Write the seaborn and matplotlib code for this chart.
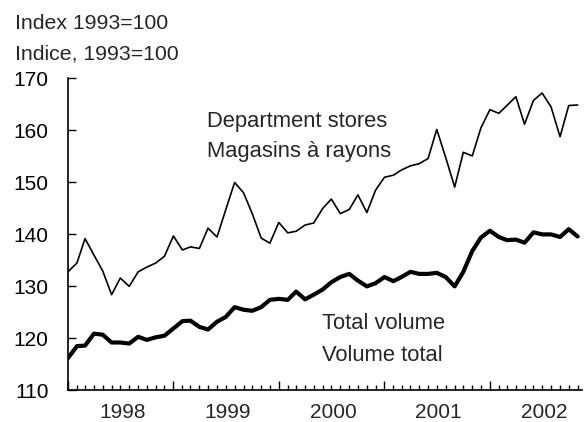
import datetime as dt

import matplotlib
matplotlib.use("Agg")
import matplotlib.dates as mdates
import matplotlib.pyplot as plt
import matplotlib.transforms as mtransforms
import pandas as pd
import seaborn as sns

# Monthly index values, January 1998 to November 2002 (1993=100)
months = pd.date_range("1998-01-01", periods=59, freq="MS")

department_stores = [
    132.8, 134.5, 139.2, 136.0, 133.0, 128.4, 131.6, 130.0, 132.8, 133.7, 134.5, 135.8,
    139.7, 137.0, 137.6, 137.3, 141.2, 139.5, 144.7, 150.0, 148.0, 144.0, 139.3, 138.3,
    142.3, 140.3, 140.6, 141.8, 142.2, 145.0, 146.8, 144.0, 144.8, 147.6, 144.2, 148.5,
    151.0, 151.4, 152.4, 153.2, 153.6, 154.6, 160.2, 154.8, 149.1, 155.8, 155.1, 160.5,
    164.0, 163.3, 164.8, 166.5, 161.2, 165.8, 167.2, 164.5, 158.8, 164.8, 164.9,
]

total_volume = [
    116.2, 118.5, 118.6, 120.9, 120.7, 119.2, 119.2, 119.0, 120.3, 119.7, 120.2, 120.5,
    121.9, 123.3, 123.4, 122.2, 121.7, 123.2, 124.1, 126.0, 125.5, 125.3, 126.0, 127.4,
    127.6, 127.4, 129.0, 127.5, 128.4, 129.4, 130.8, 131.8, 132.4, 131.1, 130.0, 130.6,
    131.8, 131.0, 131.8, 132.8, 132.4, 132.4, 132.6, 131.8, 130.0, 132.8, 136.8, 139.4,
    140.7, 139.5, 138.9, 139.0, 138.4, 140.4, 140.0, 140.0, 139.5, 141.0, 139.6,
]

years = [1998, 1999, 2000, 2001, 2002]
y_ticks = [110, 120, 130, 140, 150, 160, 170]

series_dept = "Department stores"
series_total = "Total volume"

df = pd.concat([
    pd.DataFrame({"month": months, "index": department_stores, "series": series_dept}),
    pd.DataFrame({"month": months, "index": total_volume, "series": series_total}),
])

sns.set_style("white")
plt.rcParams["font.family"] = ["Liberation Sans", "DejaVu Sans"]
plt.rcParams.update({
    "xtick.direction": "in", "ytick.direction": "in",
    "xtick.bottom": True, "ytick.left": True,
    "xtick.color": "black", "ytick.color": "black",
})

W, H = 585, 422
fig = plt.figure(figsize=(W / 100, H / 100), dpi=100)
ax = fig.add_axes([68 / W, 1 - 390.3 / H, (582 - 68) / W, (390.3 - 78.5) / H])

sns.lineplot(
    data=df, x="month", y="index", hue="series", size="series",
    palette={series_dept: "black", series_total: "black"},
    sizes={series_dept: 1.2, series_total: 3.0},
    legend=False, ax=ax,
)

ax.set_xlim(dt.datetime(1998, 1, 1), dt.datetime(2002, 11, 16))
ax.set_ylim(110, 170)
ax.set_xlabel("")
ax.set_ylabel("")

# Spines: only left and bottom
for side in ("top", "right"):
    ax.spines[side].set_visible(False)
for side in ("left", "bottom"):
    ax.spines[side].set_color("black")
    ax.spines[side].set_linewidth(1.2)

# y axis
ax.set_yticks(y_ticks)
ax.set_yticklabels([str(v) for v in y_ticks], fontsize=15)
ax.tick_params(axis="y", left=True, direction="in", length=6, width=1.0,
               color="black", pad=14)

# x axis: long ticks at each January, short ticks every month, labels mid-year
ax.xaxis.set_major_locator(mdates.YearLocator())
ax.xaxis.set_minor_locator(mdates.MonthLocator())
ax.xaxis.set_major_formatter(plt.NullFormatter())
ax.tick_params(axis="x", which="major", bottom=True, direction="in", length=6.5,
               width=1.0, color="black")
ax.tick_params(axis="x", which="minor", bottom=True, direction="in", length=3.5,
               width=1.0, color="black")

trans = mtransforms.blended_transform_factory(ax.transData, ax.transAxes)
for yr in years:
    ax.text(mdates.date2num(dt.datetime(yr, 7, 8)), -0.04, str(yr), transform=trans,
            ha="center", va="top", fontsize=15)

# Series labels
label_kw = dict(fontsize=15.8, ha="left", va="baseline")
ax.text(mdates.date2num(dt.datetime(1999, 4, 28)), 160.7, "Department stores", **label_kw)
ax.text(mdates.date2num(dt.datetime(1999, 4, 28)), 154.8, "Magasins à rayons", **label_kw)
ax.text(mdates.date2num(dt.datetime(2000, 5, 28)), 121.8, "Total volume", **label_kw)
ax.text(mdates.date2num(dt.datetime(2000, 5, 28)), 115.7, "Volume total", **label_kw)

# Unit header
fig.text(15 / W, 1 - 29.3 / H, "Index 1993=100", fontsize=15.3, ha="left", va="baseline")
fig.text(15 / W, 1 - 59.5 / H, "Indice, 1993=100", fontsize=15.3, ha="left", va="baseline")

fig.savefig("out.png", dpi=100, facecolor="white")
